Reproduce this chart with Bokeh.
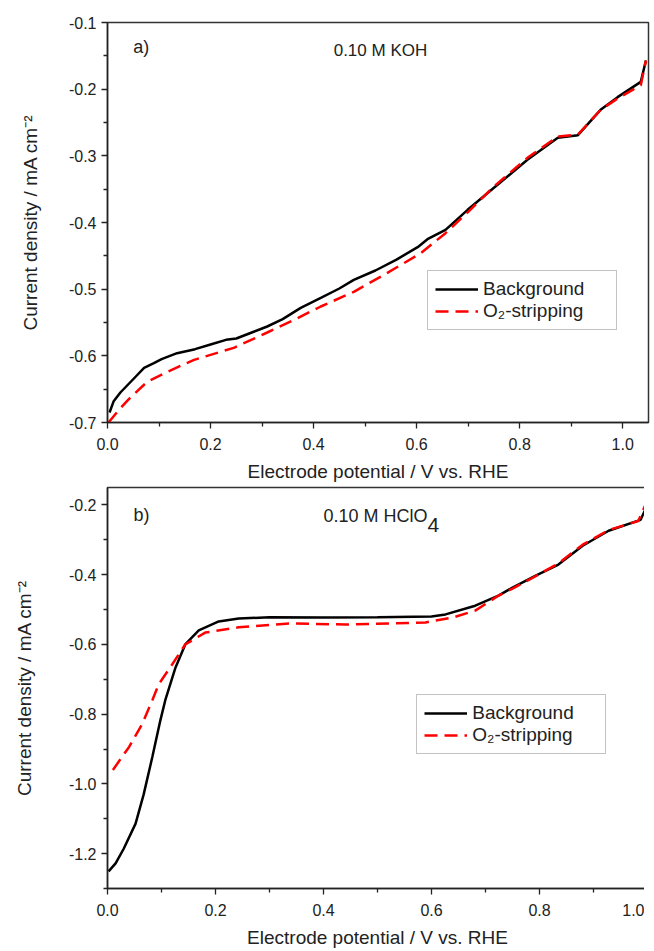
from bokeh.plotting import figure
from bokeh.models import Range1d, FixedTicker, PrintfTickFormatter, Label
from bokeh.layouts import column
from bokeh.embed import file_html
from bokeh.resources import INLINE

# ---- Panel a) 0.10 M KOH ----
a_bg_x = [0.004, 0.012, 0.025, 0.04, 0.055, 0.071, 0.09, 0.105, 0.135, 0.17, 0.2, 0.23, 0.25, 0.28, 0.31,
          0.34, 0.375, 0.414, 0.45, 0.478, 0.52, 0.56, 0.602, 0.621, 0.656, 0.699, 0.75, 0.815, 0.874,
          0.913, 0.957, 0.99, 1.035, 1.045]
a_bg_y = [-0.685, -0.668, -0.655, -0.643, -0.631, -0.618, -0.611, -0.605, -0.596, -0.590, -0.583, -0.576,
          -0.574, -0.565, -0.556, -0.545, -0.528, -0.513, -0.499, -0.486, -0.472, -0.456, -0.437, -0.425,
          -0.411, -0.381, -0.348, -0.306, -0.273, -0.269, -0.231, -0.212, -0.189, -0.157]
a_o2_x = [0.002, 0.02, 0.04, 0.077, 0.116, 0.168, 0.245, 0.31, 0.37, 0.414, 0.478, 0.54, 0.608, 0.656,
          0.7, 0.75, 0.815, 0.874, 0.913, 0.957, 0.99, 1.035, 1.045]
a_o2_y = [-0.700, -0.683, -0.666, -0.639, -0.624, -0.606, -0.588, -0.565, -0.543, -0.526, -0.504, -0.477,
          -0.446, -0.416, -0.384, -0.346, -0.303, -0.271, -0.268, -0.231, -0.214, -0.194, -0.157]
a_xticks = [0.0, 0.2, 0.4, 0.6, 0.8, 1.0]
a_xminor = [0.1, 0.3, 0.5, 0.7, 0.9]
a_yticks = [-0.7, -0.6, -0.5, -0.4, -0.3, -0.2, -0.1]
a_yminor = [-0.65, -0.55, -0.45, -0.35, -0.25, -0.15]

# ---- Panel b) 0.10 M HClO4 ----
b_bg_x = [0.002, 0.015, 0.03, 0.052, 0.067, 0.083, 0.098, 0.107, 0.126, 0.144, 0.169, 0.206, 0.243, 0.3,
          0.4, 0.5, 0.6, 0.626, 0.681, 0.724, 0.75, 0.793, 0.835, 0.88, 0.928, 0.987, 1.0]
b_bg_y = [-1.251, -1.228, -1.186, -1.114, -1.030, -0.923, -0.817, -0.760, -0.666, -0.600, -0.560, -0.534,
          -0.526, -0.522, -0.523, -0.522, -0.520, -0.514, -0.489, -0.460, -0.437, -0.403, -0.371, -0.317,
          -0.274, -0.243, -0.200]
b_o2_x = [0.01, 0.04, 0.064, 0.083, 0.095, 0.12, 0.144, 0.181, 0.243, 0.336, 0.441, 0.589, 0.639, 0.681,
          0.724, 0.75, 0.793, 0.835, 0.88, 0.928, 0.983, 0.996]
b_o2_y = [-0.960, -0.894, -0.829, -0.760, -0.714, -0.657, -0.600, -0.566, -0.551, -0.540, -0.543, -0.537,
          -0.523, -0.503, -0.460, -0.440, -0.404, -0.368, -0.314, -0.272, -0.246, -0.200]
b_xticks = [0.0, 0.2, 0.4, 0.6, 0.8, 1.0]
b_xminor = [0.1, 0.3, 0.5, 0.7, 0.9]
b_yticks = [-1.2, -1.0, -0.8, -0.6, -0.4, -0.2]
b_yminor = [-1.3, -1.1, -0.9, -0.7, -0.5, -0.3]

FONT = "Liberation Sans"
XLABEL = "Electrode potential / V vs. RHE"
YLABEL = "Current density / mA cm\u207b\u00b2"


def style(p, xt, xm, yt, ym, ylabel_standoff):
    p.xaxis.ticker = FixedTicker(ticks=xt, minor_ticks=xm)
    p.yaxis.ticker = FixedTicker(ticks=yt, minor_ticks=ym)
    p.xaxis.formatter = PrintfTickFormatter(format="%.1f")
    p.yaxis.formatter = PrintfTickFormatter(format="%.1f")
    p.xgrid.visible = False
    p.ygrid.visible = False
    p.outline_line_color = "#333333"
    p.outline_line_width = 1.5
    for ax in (p.xaxis, p.yaxis):
        ax.axis_line_color = "#222222"
        ax.axis_line_width = 1.5
        ax.major_tick_line_color = "#222222"
        ax.minor_tick_line_color = "#222222"
        ax.major_tick_line_width = 1.3
        ax.minor_tick_line_width = 1.3
        ax.major_tick_out = 6
        ax.major_tick_in = 0
        ax.minor_tick_out = 4
        ax.minor_tick_in = 0
        ax.major_label_text_font = FONT
        ax.major_label_text_font_size = "16px"
        ax.major_label_text_color = "#222222"
        ax.axis_label_text_font = FONT
        ax.axis_label_text_font_size = "19px"
        ax.axis_label_text_font_style = "normal"
        ax.axis_label_text_color = "#222222"
    p.xaxis.major_label_standoff = 9
    p.yaxis.major_label_standoff = 5
    p.xaxis.axis_label = XLABEL
    p.yaxis.axis_label = YLABEL
    p.xaxis.axis_label_standoff = 8
    p.yaxis.axis_label_standoff = ylabel_standoff


def legend_style(p, loc):
    lg = p.legend[0]
    lg.location = loc
    lg.glyph_width = 43
    lg.glyph_height = 22
    lg.label_height = 22
    lg.label_width = 126
    lg.padding = 7
    lg.spacing = 0
    lg.margin = 0
    lg.label_standoff = 5
    lg.border_line_color = "#888888"
    lg.border_line_width = 1
    lg.label_text_font = FONT
    lg.label_text_font_size = "19px"
    lg.label_text_color = "#222222"
    lg.background_fill_alpha = 1.0


pa = figure(frame_width=541, frame_height=400, output_backend="svg", toolbar_location=None,
            x_range=Range1d(0, 1.05), y_range=Range1d(-0.7, -0.1),
            min_border_left=107, min_border_right=2, min_border_top=22, min_border_bottom=0)
style(pa, a_xticks, a_xminor, a_yticks, a_yminor, 25)
pa.line(a_bg_x, a_bg_y, line_color="black", line_width=2.5, legend_label="Background")
pa.line(a_o2_x, a_o2_y, line_color="#ff0000", line_width=2.5, line_dash="13 7",
        legend_label="O\u2082-stripping")
legend_style(pa, (320, 92))
pa.add_layout(Label(x=0.05, y=-0.137, text="a)", text_font=FONT, text_font_size="18px",
                    text_baseline="middle", text_color="#222222"))
pa.add_layout(Label(x=0.439, y=-0.142, text="0.10 M KOH", text_font=FONT, text_font_size="17px",
                    text_baseline="middle", text_color="#222222"))

pb = figure(frame_width=540, frame_height=401, output_backend="svg", toolbar_location=None,
            x_range=Range1d(0, 1.0), y_range=Range1d(-1.3, -0.15),
            min_border_left=102, min_border_right=2, min_border_top=3, min_border_bottom=0)
style(pb, b_xticks, b_xminor, b_yticks, b_yminor, 31)
pb.line(b_bg_x, b_bg_y, line_color="black", line_width=2.5, legend_label="Background")
pb.line(b_o2_x, b_o2_y, line_color="#ff0000", line_width=2.5, line_dash="13 7",
        legend_label="O\u2082-stripping")
legend_style(pb, (317, 134))
pb.add_layout(Label(x=0.048, y=-0.229, text="b)", text_font=FONT, text_font_size="18px",
                    text_baseline="middle", text_color="#222222"))
pb.add_layout(Label(x=0.4, y=-0.231, text="0.10 M HClO", text_font=FONT, text_font_size="18px",
                    text_baseline="middle", text_color="#222222"))
pb.add_layout(Label(x=0.4, y=-0.231, x_offset=104, y_offset=-9, text="4", text_font=FONT,
                    text_font_size="21px", text_baseline="middle", text_color="#222222"))

layout = column(pa, pb)
open("out.html", "w").write(file_html(layout, INLINE))
